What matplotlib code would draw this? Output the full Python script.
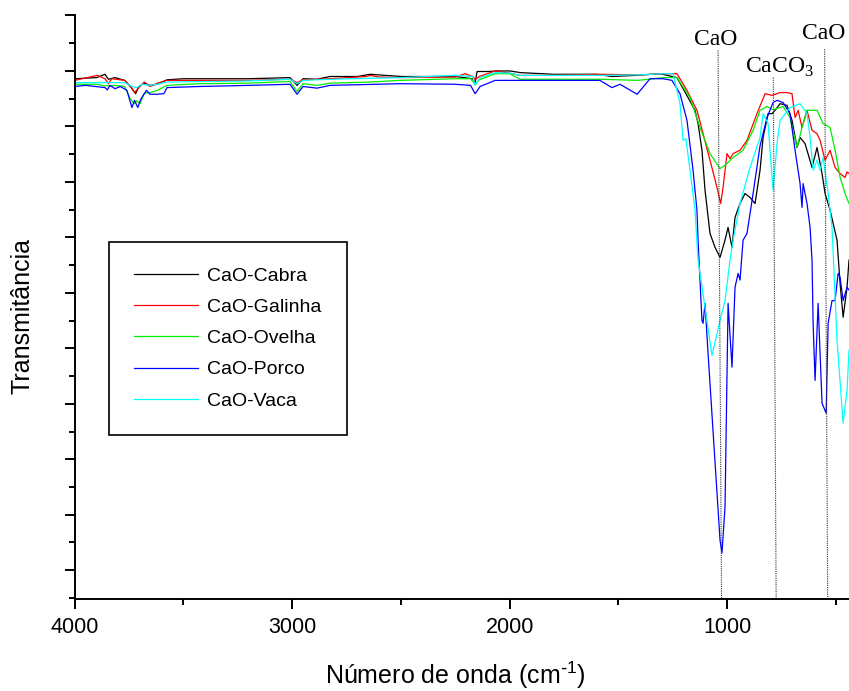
import matplotlib
matplotlib.use("Agg")
import matplotlib.pyplot as plt
from matplotlib.ticker import MultipleLocator, NullFormatter

plt.rcParams["font.family"] = ["Liberation Sans", "DejaVu Sans"]

# FTIR spectra (wavenumber cm-1, transmittance in arbitrary %)
cabra_wn = [4000, 3900, 3861, 3845, 3815, 3770, 3740, 3720, 3705, 3680, 3654, 3620, 3576,
            3500, 3200, 3010, 2978, 2950, 2886, 2826, 2700, 2642, 2500, 2250, 2170, 2159,
            2150, 2100, 2060, 2000, 1950, 1800, 1600, 1530, 1420, 1309, 1231, 1180, 1148,
            1134, 1116, 1102, 1079, 1056, 1033, 1010, 996, 978, 964, 941, 918, 895, 872,
            849, 835, 812, 794, 780, 757, 725, 702, 679, 665, 642, 610, 587, 564, 550,
            527, 495, 481, 467, 449, 440]
cabra_v = [88.6, 88.8, 89.4, 88.5, 88.8, 88.3, 87.0, 85.9, 87.2, 87.8, 87.4, 87.6, 88.4,
           88.6, 88.6, 88.8, 87.4, 88.6, 88.5, 89.0, 89.0, 89.4, 89.0, 89.0, 88.6, 87.9,
           89.9, 89.9, 90.0, 90.0, 89.7, 89.4, 89.4, 89.0, 89.2, 89.5, 88.8, 85.2, 82.9,
           80.5, 75.7, 68.5, 60.7, 58.2, 56.4, 59.5, 61.8, 58.2, 63.6, 66.1, 67.9, 67.2, 66.1,
           72.1, 78.0, 82.3, 82.3, 82.9, 84.1, 83.8, 81.1, 76.2, 78.0, 76.9, 72.6, 76.2, 71.5, 67.9,
           64.9, 59.5, 51.7, 45.6, 51.0, 55.9]

galinha_wn = [4000, 3897, 3861, 3845, 3830, 3770, 3740, 3725, 3705, 3680, 3654, 3620, 3576,
              3200, 3010, 2978, 2950, 2826, 2660, 2642, 2600, 2504, 2251, 2205, 2170, 2159,
              2140, 2067, 2000, 1952, 1800, 1585, 1400, 1295, 1231, 1185, 1139, 1111, 1079,
              1047, 1030, 1019, 1001, 987, 973, 941, 909, 863, 826, 794, 757, 725, 702, 688,
              674, 656, 633, 610, 587, 573, 550, 527, 504, 481, 458, 449, 440]
galinha_v = [88.3, 89.2, 88.6, 87.7, 88.6, 88.3, 87.0, 86.1, 87.0, 88.0, 87.2, 87.8, 88.3,
             88.3, 88.5, 87.9, 88.4, 88.6, 89.0, 89.2, 88.9, 88.8, 88.9, 89.5, 89.0, 88.4,
             89.0, 90.0, 89.6, 89.2, 89.2, 89.4, 89.3, 89.5, 89.5, 86.5, 82.9, 78.7, 73.9,
             69.0, 66.1, 69.0, 75.1, 74.2, 75.1, 75.7, 77.5, 82.3, 85.9, 85.6, 86.1, 86.1, 85.9, 81.6,
             82.9, 79.8, 82.9, 79.3, 78.7, 77.5, 73.9, 75.7, 72.6, 71.5, 70.8, 71.8, 71.5]

ovelha_wn = [4000, 3897, 3861, 3815, 3770, 3745, 3727, 3714, 3700, 3680, 3654, 3620, 3576,
             3424, 3200, 3010, 2978, 2950, 2886, 2826, 2642, 2504, 2251, 2180, 2159, 2140,
             2067, 2000, 1952, 1768, 1585, 1410, 1295, 1231, 1171, 1125, 1079, 1033, 1010,
             973, 927, 881, 849, 817, 789, 743, 711, 679, 656, 633, 587, 559, 527, 504, 481,
             458, 440]
ovelha_v = [87.6, 87.6, 87.3, 87.4, 87.2, 85.0, 84.1, 84.6, 84.1, 86.0, 86.1, 86.5, 87.4,
            87.7, 87.8, 88.1, 86.3, 87.7, 87.4, 87.8, 88.0, 88.3, 88.6, 88.6, 87.6, 88.4,
            89.5, 89.5, 88.5, 88.5, 88.5, 88.3, 88.8, 88.8, 85.2, 79.8, 75.1, 72.4, 73.0,
            74.4, 75.7, 79.3, 82.9, 83.6, 83.0, 83.6, 81.6, 76.2, 79.8, 82.9, 82.9, 80.5, 79.8, 75.7, 70.8,
            67.9, 66.1]

porco_wn = [4000, 3950, 3861, 3850, 3838, 3815, 3790, 3760, 3737, 3725, 3710, 3695, 3670,
            3654, 3620, 3590, 3576, 3424, 3200, 3010, 2978, 2950, 2886, 2826, 2504, 2251,
            2180, 2159, 2136, 2067, 1952, 1585, 1530, 1493, 1414, 1355, 1295, 1254, 1217,
            1185, 1157, 1139, 1134, 1116, 1111, 1102, 1088, 1033, 1024, 1010, 996, 978, 964,
            950, 941, 927, 909, 881, 849, 817, 789, 771, 743, 711, 688, 665, 656, 651, 633,
            619, 610, 605, 596, 582, 564, 545, 536, 518, 504, 490, 481, 467, 449, 440]
porco_v = [87.2, 87.4, 87.0, 86.6, 87.4, 86.8, 87.2, 86.5, 83.4, 84.7, 83.4, 85.0, 86.5,
           85.8, 85.8, 85.9, 87.0, 87.2, 87.4, 87.6, 85.8, 87.2, 86.9, 87.4, 87.7, 87.6,
           87.4, 85.9, 87.2, 88.3, 88.3, 88.3, 87.0, 87.6, 85.8, 88.6, 88.6, 88.3, 85.9,
           81.1, 72.1, 64.9, 59.5, 45.0, 44.5, 48.1, 39.1, 5.4, 3.1, 11.4, 48.1, 36.6, 51.0,
           53.5, 52.3, 59.5, 60.7, 67.9, 76.5, 81.6, 84.3, 84.7, 84.3, 82.3, 75.7, 69.7, 65.4, 69.7, 66.1,
           61.8, 55.9, 44.5, 34.2, 48.1, 30.1, 28.3, 44.5, 48.6, 48.6, 53.5, 52.8, 48.6, 51.0, 50.5]

vaca_wn = [4000, 3861, 3770, 3737, 3714, 3690, 3654, 3620, 3576, 3200, 3010, 2978, 2950,
           2826, 2504, 2251, 2170, 2159, 2136, 2067, 1998, 1952, 1585, 1400, 1295, 1249,
           1217, 1203, 1190, 1171, 1148, 1134, 1070, 1033, 1010, 987, 973, 941, 895, 849,
           835, 812, 800, 789, 771, 757, 711, 665, 633, 619, 605, 587, 573, 559, 536, 518,
           495, 467, 449, 440]
vaca_v = [87.9, 87.9, 87.9, 87.2, 87.0, 87.6, 87.4, 87.6, 88.0, 88.2, 88.5, 87.7, 88.3,
          88.5, 88.8, 89.2, 89.0, 87.4, 88.8, 89.7, 89.6, 89.2, 89.2, 89.3, 89.5, 89.5,
          84.1, 77.5, 77.8, 72.1, 64.9, 55.9, 38.7, 45.0, 48.6, 55.9, 59.5, 66.1, 72.6, 78.0,
          82.3, 80.5, 74.0, 68.5, 76.9, 81.1, 83.4, 84.1, 82.3, 78.0, 72.1, 73.9, 72.1, 74.4, 67.9, 61.8,
          41.4, 26.5, 32.4, 39.6]

labels = ["CaO-Cabra", "CaO-Galinha", "CaO-Ovelha", "CaO-Porco", "CaO-Vaca"]
colors = ["black", "#ff0000", "#00ee00", "#0000ff", "#00ffff"]

# assignment lines (slightly slanted, as drawn in the original)
mark_top_wn = [1042, 788, 552]
mark_bot_wn = [1026, 775, 538]
mark_top_v = [93.7, 88.8, 93.9]
mark_text = ["CaO", r"CaCO$_\mathregular{3}$", "CaO"]
mark_text_wn = [1055, 918, 555]
mark_text_v = [94.6, 89.7, 95.7]
mark_ha = ["center", "left", "center"]

YMIN, YMAX = -5.2, 100

fig = plt.figure(figsize=(8.49, 6.91), dpi=100)
ax = fig.add_axes([0.088, 0.1331, 0.912, 0.8445])

series = [(cabra_wn, cabra_v), (galinha_wn, galinha_v), (ovelha_wn, ovelha_v),
          (porco_wn, porco_v), (vaca_wn, vaca_v)]
for (wn, v), lab, c in zip(series, labels, colors):
    ax.plot(wn, v, color=c, lw=0.9, label=lab)

for wt, wb, vt, txt, tw, tv, ha in zip(mark_top_wn, mark_bot_wn, mark_top_v, mark_text,
                                        mark_text_wn, mark_text_v, mark_ha):
    ax.plot([wt, wb], [vt, YMIN], color="#333333", lw=0.8, ls=(0, (1, 1)))
    ax.text(tw, tv, txt, ha=ha, va="baseline", fontsize=17,
            family=["Liberation Serif", "DejaVu Serif"])

ax.set_xlim(4000, 440)
ax.set_ylim(YMIN, YMAX)
ax.xaxis.set_major_locator(MultipleLocator(1000))
ax.xaxis.set_minor_locator(MultipleLocator(500))
ax.yaxis.set_major_locator(MultipleLocator(10))
ax.yaxis.set_minor_locator(MultipleLocator(5))
ax.yaxis.set_major_formatter(NullFormatter())

for s in ["top", "right"]:
    ax.spines[s].set_visible(False)
for s in ["left", "bottom"]:
    ax.spines[s].set_linewidth(1.4)
ax.tick_params(which="major", length=7, width=1.4, labelsize=15.5, pad=6)
ax.tick_params(which="minor", length=4, width=1.4)

ax.set_xlabel(r"Número de onda (cm$^{\mathregular{\text{-}1}}$)", fontsize=18)
ax.set_ylabel("Transmitância", fontsize=18)
ax.xaxis.set_label_coords(0.491, -0.104)
ax.yaxis.set_label_coords(-0.052, 0.485)

leg = ax.legend(loc="upper left", bbox_to_anchor=(0.0443, 0.612), borderaxespad=0,
                fontsize=14, handlelength=3.3, handletextpad=0.45, labelspacing=0.7,
                borderpad=1.3, fancybox=False, edgecolor="black", framealpha=1)
leg.get_frame().set_linewidth(1.2)

fig.savefig("out.png", dpi=100)
